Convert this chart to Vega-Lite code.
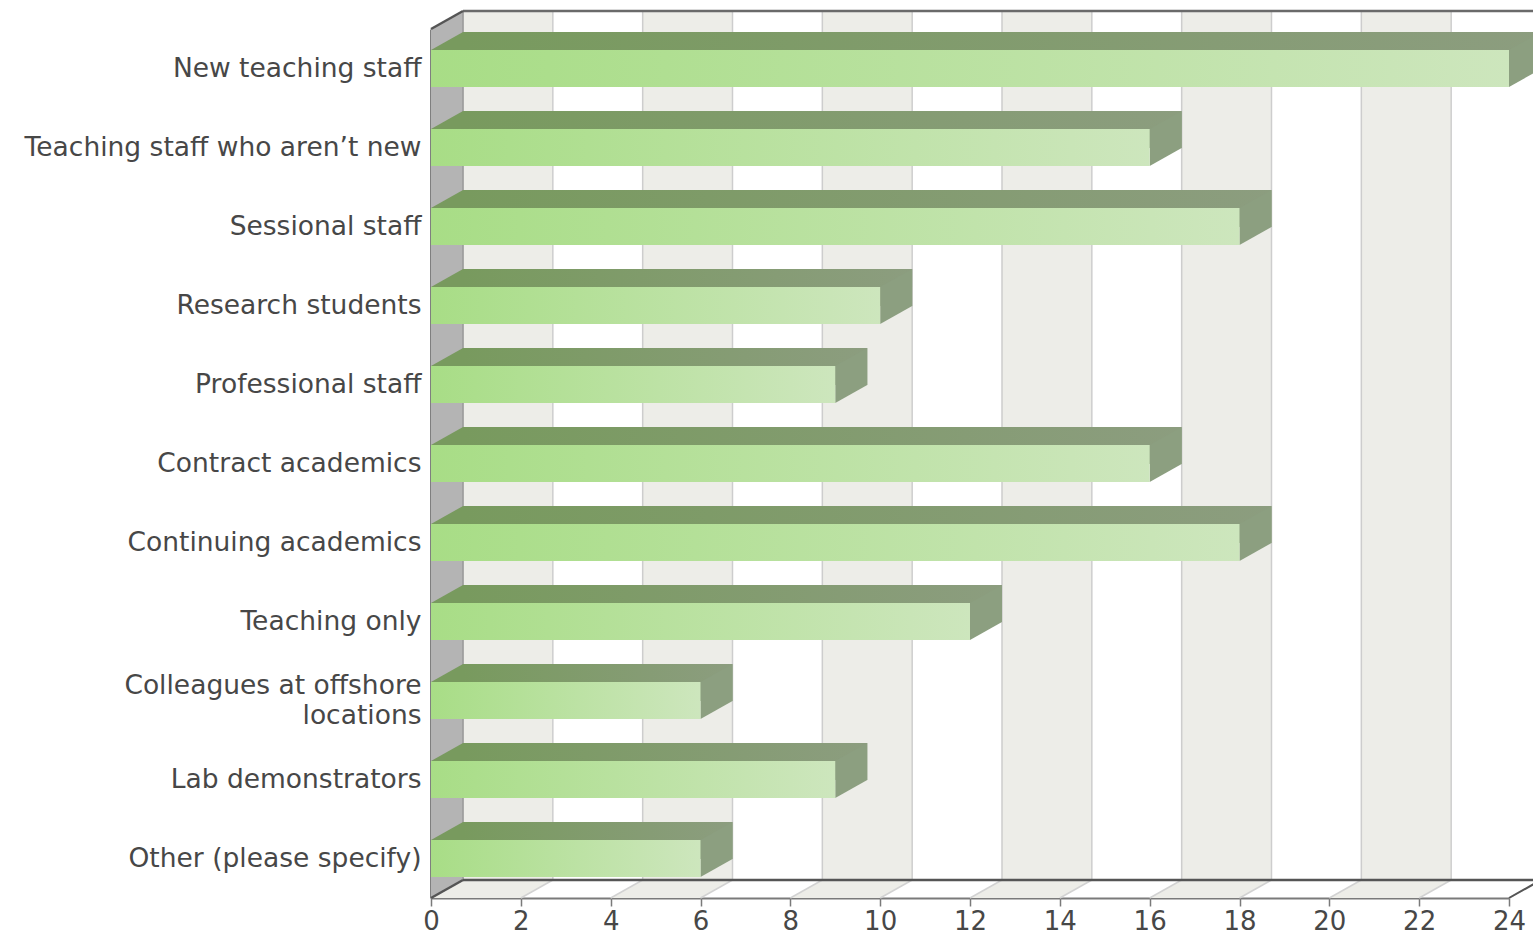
{
  "$schema": "https://vega.github.io/schema/vega-lite/v6.json",
  "width": 1078,
  "height": 869,
  "autosize": "none",
  "padding": {"left": 431, "top": 29, "right": 24, "bottom": 40},
  "background": "white",
  "config": {"view": {"stroke": null}},
  "resolve": {"axis": {"x": "independent", "y": "independent"}},
  "datasets": {
    "bars": [
      {"cat": "New teaching staff", "v": 24},
      {"cat": "Teaching staff who aren’t new", "v": 16},
      {"cat": "Sessional staff", "v": 18},
      {"cat": "Research students", "v": 10},
      {"cat": "Professional staff", "v": 9},
      {"cat": "Contract academics", "v": 16},
      {"cat": "Continuing academics", "v": 18},
      {"cat": "Teaching only", "v": 12},
      {"cat": "Colleagues at offshore locations", "v": 6},
      {"cat": "Lab demonstrators", "v": 9},
      {"cat": "Other (please specify)", "v": 6}
    ],
    "stripes": [
      {"a": 0, "b": 2}, {"a": 4, "b": 6}, {"a": 8, "b": 10},
      {"a": 12, "b": 14}, {"a": 16, "b": 18}, {"a": 20, "b": 22}
    ],
    "grid": [
      {"g": 0}, {"g": 2}, {"g": 4}, {"g": 6}, {"g": 8}, {"g": 10}, {"g": 12},
      {"g": 14}, {"g": 16}, {"g": 18}, {"g": 20}, {"g": 22}, {"g": 24}
    ],
    "one": [{"k": 1}]
  },
  "layer": [
    {
      "data": {"name": "stripes"},
      "mark": {"type": "rect", "fill": "#edede8", "xOffset": 32, "x2Offset": 32, "yOffset": -18, "y2Offset": -18},
      "encoding": {
        "x": {"field": "a", "type": "quantitative", "axis": null, "scale": {"domain": [0, 24], "nice": false, "zero": true}},
        "x2": {"field": "b"},
        "y": {"value": 0},
        "y2": {"value": "height"}
      }
    },
    {
      "data": {"name": "stripes"},
      "mark": {"type": "point", "shape": "M0,0 L32,-18 L121.83,-18 L89.83,0 Z", "size": 4, "filled": true, "fill": "#edede8", "opacity": 1, "strokeWidth": 0},
      "encoding": {
        "x": {"field": "a", "type": "quantitative", "axis": null},
        "y": {"value": "height"}
      }
    },
    {
      "data": {"name": "grid"},
      "mark": {"type": "rule", "stroke": "#cdcdcd", "strokeWidth": 1.5, "xOffset": 32, "yOffset": -18, "y2Offset": -18},
      "encoding": {
        "x": {"field": "g", "type": "quantitative", "axis": null},
        "y": {"value": 0},
        "y2": {"value": "height"}
      }
    },
    {
      "data": {"name": "grid"},
      "mark": {"type": "rule", "stroke": "#d2d2d2", "strokeWidth": 1.5, "x2Offset": 32, "y2Offset": -18},
      "encoding": {
        "x": {"field": "g", "type": "quantitative", "axis": null},
        "x2": {"field": "g"},
        "y": {"value": "height"},
        "y2": {"value": "height"}
      }
    },
    {
      "data": {"name": "one"},
      "mark": {"type": "point", "shape": "M0,0 L32,-18 L32,851 L0,869 Z", "size": 4, "filled": true, "fill": "#b4b4b4", "opacity": 1, "strokeWidth": 0},
      "encoding": {
        "x": {"datum": 0, "type": "quantitative", "axis": null},
        "y": {"value": 0}
      }
    },
    {
      "data": {"name": "one"},
      "mark": {"type": "rule", "stroke": "#9a9a9a", "strokeWidth": 1.5, "xOffset": 32, "yOffset": -18, "y2Offset": -18},
      "encoding": {
        "x": {"datum": 0, "type": "quantitative", "axis": null},
        "y": {"value": 0},
        "y2": {"value": "height"}
      }
    },
    {
      "data": {"name": "one"},
      "mark": {"type": "rule", "stroke": "#6a6a6a", "strokeWidth": 2.5, "xOffset": 32, "x2Offset": 60, "yOffset": -18},
      "encoding": {
        "x": {"datum": 0, "type": "quantitative", "axis": null},
        "x2": {"datum": 24},
        "y": {"value": 0}
      }
    },
    {
      "data": {"name": "one"},
      "mark": {"type": "rule", "stroke": "#555555", "strokeWidth": 2.5, "xOffset": 32, "x2Offset": 32, "yOffset": -18},
      "encoding": {
        "x": {"datum": 0, "type": "quantitative", "axis": null},
        "x2": {"datum": 24},
        "y": {"value": "height"}
      }
    },
    {
      "data": {"name": "one"},
      "mark": {"type": "rule", "stroke": "#555555", "strokeWidth": 2.5, "x2Offset": 32, "y2Offset": -18},
      "encoding": {
        "x": {"datum": 0, "type": "quantitative", "axis": null},
        "x2": {"datum": 0},
        "y": {"value": 0},
        "y2": {"value": 0}
      }
    },
    {
      "data": {"name": "one"},
      "mark": {"type": "rule", "stroke": "#555555", "strokeWidth": 2.5, "x2Offset": 32, "y2Offset": -18},
      "encoding": {
        "x": {"datum": 0, "type": "quantitative", "axis": null},
        "x2": {"datum": 0},
        "y": {"value": "height"},
        "y2": {"value": "height"}
      }
    },
    {
      "data": {"name": "one"},
      "mark": {"type": "rule", "stroke": "#555555", "strokeWidth": 2, "x2Offset": 32, "y2Offset": -18},
      "encoding": {
        "x": {"datum": 24, "type": "quantitative", "axis": null},
        "x2": {"datum": 24},
        "y": {"value": "height"},
        "y2": {"value": "height"}
      }
    },
    {
      "data": {"name": "bars"},
      "mark": {
        "type": "bar", "height": 37, "xOffset": 32, "x2Offset": 32, "yOffset": -18,
        "fill": {"gradient": "linear", "x1": 0, "y1": 0, "x2": 1, "y2": 0,
          "stops": [{"offset": 0, "color": "#789a5e"}, {"offset": 1, "color": "#8c9d7f"}]}
      },
      "encoding": {
        "x": {"field": "v", "type": "quantitative", "axis": null},
        "y": {"field": "cat", "type": "nominal", "sort": null, "axis": null, "scale": {"paddingInner": 0, "paddingOuter": 0}}
      }
    },
    {
      "data": {"name": "bars"},
      "mark": {"type": "point", "shape": "M0,-18.5 L32,-36.5 L32,0.5 L0,18.5 Z", "size": 4, "filled": true, "fill": "#8c9f80", "opacity": 1, "strokeWidth": 0},
      "encoding": {
        "x": {"field": "v", "type": "quantitative", "axis": null},
        "y": {"field": "cat", "type": "nominal", "sort": null, "axis": null}
      }
    },
    {
      "data": {"name": "bars"},
      "mark": {"type": "point", "shape": "M0,-18.5 L32,-36.5 L32,-18.5 Z", "size": 4, "filled": true, "fill": "#789a5e", "opacity": 1, "strokeWidth": 0},
      "encoding": {
        "x": {"datum": 0, "type": "quantitative", "axis": null},
        "y": {"field": "cat", "type": "nominal", "sort": null, "axis": null}
      }
    },
    {
      "data": {"name": "bars"},
      "mark": {
        "type": "bar", "height": 37,
        "fill": {"gradient": "linear", "x1": 0, "y1": 0, "x2": 1, "y2": 0,
          "stops": [{"offset": 0, "color": "#a8dd86"}, {"offset": 1, "color": "#cde6bd"}]}
      },
      "encoding": {
        "x": {
          "field": "v", "type": "quantitative",
          "axis": {
            "title": null, "values": [0, 2, 4, 6, 8, 10, 12, 14, 16, 18, 20, 22, 24],
            "grid": false, "domainColor": "#7a7a7a", "domainWidth": 2,
            "tickColor": "#7a7a7a", "tickSize": 8, "tickWidth": 1.5,
            "labelFont": "DejaVu Sans", "labelFontSize": 26, "labelColor": "#474747",
            "labelPadding": 2, "labelFlush": false, "labelOverlap": false
          }
        },
        "y": {
          "field": "cat", "type": "nominal", "sort": null,
          "axis": {
            "title": null, "domainColor": "#555555", "domainWidth": 2.5, "ticks": false,
            "labelFont": "DejaVu Sans", "labelFontSize": 26.5, "labelColor": "#474747",
            "labelPadding": 10, "labelLimit": 0, "labelLineHeight": 30,
            "labelOffset": {"expr": "datum.value == 'Colleagues at offshore locations' ? -15 : 0"},
            "labelExpr": "datum.label == 'Colleagues at offshore locations' ? ['Colleagues at offshore', 'locations'] : datum.label"
          }
        }
      }
    }
  ]
}
